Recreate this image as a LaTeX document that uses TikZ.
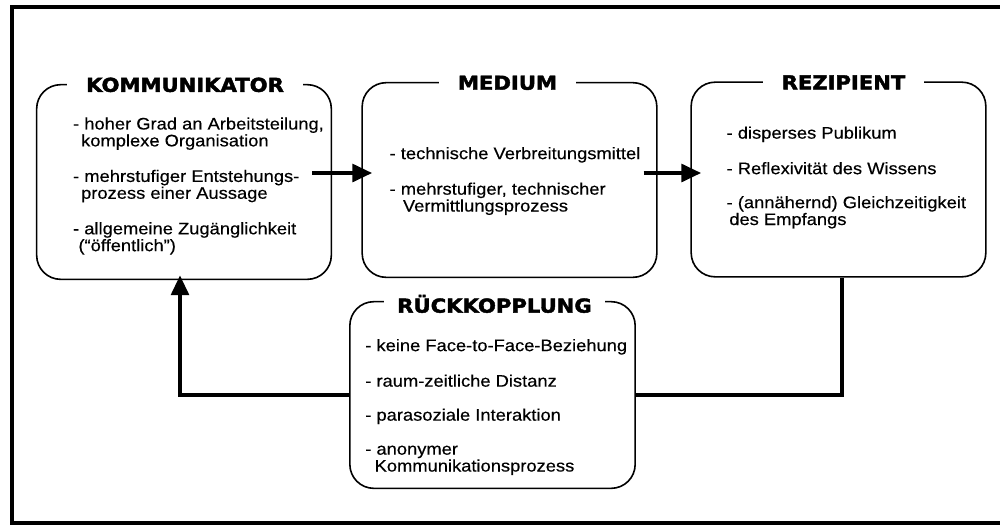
\documentclass[tikz,border=0pt]{standalone}
\usepackage{fontspec}
\setmainfont[FakeStretch=1.1,FakeBold=0.4]{Liberation Sans}
\newfontfamily\titlefont[FakeStretch=1.1,FakeBold=2.2]{DejaVu Sans}
\usetikzlibrary{arrows.meta}

\begin{document}
\begin{tikzpicture}[x=0.75pt,y=-0.75pt,
        panel/.style={draw,line width=1.2pt,rounded corners=18pt,minimum width=221pt,minimum height=146pt},
        paneltitle/.style={fill=white,inner xsep=14pt,inner ysep=1pt,font=\titlefont\bfseries\fontsize{14.4pt}{14.4pt}\selectfont},
        points/.style={anchor=west,align=left,inner sep=0pt,font=\fontsize{12.5pt}{11.5pt}\selectfont},
        flow/.style={line width=3.5pt,-{Triangle[length=15pt,width=13pt]}},
        flowline/.style={line width=3.5pt}]

        \fill[white] (0,0) rectangle (1000,526);
        \useasboundingbox (0,0) rectangle (1000,526);
        \draw[line width=3.5pt] (1000,7) -- (12,7) -- (12,523) -- (1000,523);

        % the four panels
        \node[panel] (komm) at (184,182) {};
        \node[panel] (medium) at (509.5,180) {};
        \node[panel] (rezip) at (838.5,179.5) {};
        \node[panel,minimum width=214pt,minimum height=140pt] (rueck) at (492.5,395) {};

        \node[paneltitle] (kommtitle) at ([shift={(1,1)}]komm.north) {KOMMUNIKATOR};
        \node[paneltitle] (mediumtitle) at ([shift={(-2,1)}]medium.north) {MEDIUM};
        \node[paneltitle] (reziptitle) at ([shift={(5,1)}]rezip.north) {REZIPIENT};
        \node[paneltitle,inner xsep=10pt] (ruecktitle) at ([shift={(2,3)}]rueck.north) {RÜCKKOPPLUNG};

        \node[points] (kommtext) at ([shift={(37,4)}]komm.west) {- hoher Grad an Arbeitsteilung,\\
            \hspace*{6pt}komplexe Organisation\\[14pt]
            - mehrstufiger Entstehungs-\\
            \hspace*{6pt}prozess einer Aussage\\[14pt]
            - allgemeine Zugänglichkeit\\
            \hspace*{4pt}(“öffentlich”)};
        \node[points] (mediumtext) at ([shift={(28,1)}]medium.west) {- technische Verbreitungsmittel\\[14pt]
            - mehrstufiger, technischer\\
            \hspace*{10pt}Vermittlungsprozess};
        \node[points] (reziptext) at ([shift={(36,-2)}]rezip.west) {- disperses Publikum\\[14pt]
            - Reflexivität des Wissens\\[14pt]
            - (annähernd) Gleichzeitigkeit\\
            \hspace*{2pt}des Empfangs};
        \node[points] (ruecktext) at ([shift={(16,12)}]rueck.west) {- keine Face-to-Face-Beziehung\\[14pt]
            - raum-zeitliche Distanz\\[14pt]
            - parasoziale Interaktion\\[14pt]
            - anonymer\\
            \hspace*{7pt}Kommunikationsprozess};

        % connectors
        \draw[flow] ([shift={(-20,-9)}]komm.east) -- ([shift={(11,-7)}]medium.west);
        \draw[flow] ([shift={(-14,-7)}]medium.east) -- ([shift={(11,-6.5)}]rezip.west);
        \draw[flowline] ([xshift=2.6pt]rezip.south) |- (rueck.east);
        \draw[flow] (rueck.west) -| ([shift={(-4,-5)}]komm.south);

    \end{tikzpicture}
\end{document}
